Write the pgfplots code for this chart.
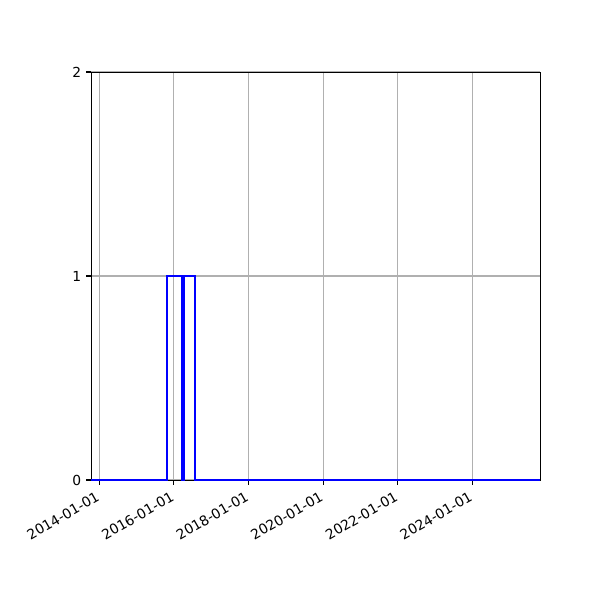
\documentclass[border=0pt]{standalone}
\usepackage{fontspec}
\setmainfont{DejaVu Sans}
\usepackage{pgfplots}
\pgfplotsset{compat=1.18}

% x axis: days counted from 2014-01-01
\begin{document}
\begin{tikzpicture}
\path[use as bounding box] (0,0) rectangle (6in,6in);
\begin{axis}[
    at={(0.91in,1.2in)}, anchor=south west,
    scale only axis,
    width=4.49in, height=4.08in,
    xmin=-81, xmax=4315,
    ymin=0, ymax=2,
    xtick={0,730,1461,2191,2922,3652},
    xticklabels={2014-01-01,2016-01-01,2018-01-01,2020-01-01,2022-01-01,2024-01-01},
    ytick={0,1,2},
    grid=major,
    major grid style={color=black!31, line width=0.8pt},
    axis line style={line width=0.7pt},
    tick align=outside,
    tick pos=left,
    major tick length=3.5pt,
    major tick style={black, line width=0.8pt},
    tick label style={font=\fontsize{10}{12}\selectfont},
    xticklabel style={xshift=-2.5pt, yshift=-3pt, rotate=30, anchor=north east, inner sep=1pt},
    /pgf/number format/assume math mode=true,
    clip=false,
  ]
  \addplot[color=blue, line width=1.5pt, line join=miter] coordinates {
    (-81,0) (660,0) (660,1) (807,1) (807,0) (826,0) (826,1) (940,1) (940,0) (4315,0)
  };
\end{axis}
\end{tikzpicture}
\end{document}
